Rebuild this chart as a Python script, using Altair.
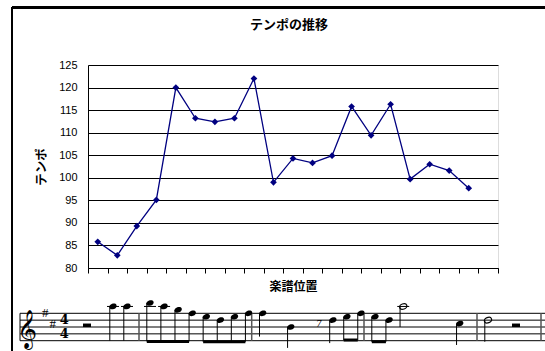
import altair as alt
import pandas as pd

# ---- chart data -------------------------------------------------------
chart_title = "テンポの推移"
positions = list(range(1, 22))
tempo = [85.8, 82.8, 89.3, 95.1, 120.0, 113.2, 112.4, 113.2, 122.0, 99.0,
         104.3, 103.3, 104.9, 115.8, 109.4, 116.3, 99.7, 103.0, 101.6, 97.7, None]
y_ticks = [80, 85, 90, 95, 100, 105, 110, 115, 120, 125]

# ---- score data (beats, staff steps: 0 = bottom line E4) --------------
note_beats = [2, 3, 4, 4.5, 5, 5.5, 6, 6.5, 7, 7.5, 8, 9, 10.5, 11, 11.5, 12, 12.5, 13, 15, 16]
note_steps = [10, 10, 11, 10, 9, 8, 7, 6, 7, 8, 8, 4, 6, 7, 8, 7, 6, 10, 5, 6]
note_stem_end = [0, 0, -0.2, -0.2, -0.2, -0.2, -0.3, -0.3, -0.3, -0.3,
                 1.2, -2.1, -0.7, 0.2, 0.2, -0.3, -0.3, 4, -1.25, -0.3]
note_kind = ["q", "q", "e", "e", "e", "e", "e", "e", "e", "e",
             "q", "q", "e", "e", "e", "e", "e", "h", "q", "h"]
beam_start = [4, 6, 11, 12]
beam_end = [5.5, 7.5, 11.5, 12.5]
beam_step = [-0.2, -0.3, 0.2, -0.3]
bar_beats = [4, 8, 12, 16, 20]
staff_steps = [0, 2, 4, 6, 8]
rest_beats = [0, 18]
key_sharps_beats = [-2.5, -2.05]
key_sharps_steps = [8, 5]
time_sig_beats = [-1.35, -1.35]
time_sig_steps = [6, 2]

# ---- layout constants --------------------------------------------------
W, H = 410, 203
PAD = {"left": 88, "top": 65, "right": 47, "bottom": 83}
BEAT_STOPS = [-4, 0, 2, 3, 4, 8, 12, 16, 18, 20]
PX_STOPS = [-68, -1, 25, 39, 62, 174.7, 287, 400, 428, 464]
STEP_RANGE = [275.7, 248.3]
JP = "Noto Sans CJK JP"
NUM = "Liberation Sans"
NAVY = "#000080"

df = pd.DataFrame({"pos": positions, "tempo": tempo})

xb = alt.X("pos:O",
           scale=alt.Scale(paddingInner=0, paddingOuter=0),
           axis=alt.Axis(labels=False, tickBand="extent", tickSize=5, tickColor="black",
                         domainColor="black", grid=False, title="楽譜位置",
                         titleFont=JP, titleFontSize=12, titleFontWeight="bold",
                         titleColor="black", titlePadding=8))
yb = alt.Y("tempo:Q",
           scale=alt.Scale(domain=[80, 125], zero=False, nice=False),
           axis=alt.Axis(values=y_ticks, tickSize=0, labelPadding=11, labelFont=NUM,
                         labelFontSize=11, labelColor="black", domainColor="black",
                         gridColor="black", gridWidth=1, gridOpacity=1,
                         title="テンポ", titleFont=JP, titleFontSize=12.5,
                         titleFontWeight="bold", titleColor="black", titlePadding=10))

line = alt.Chart(df).mark_line(color=NAVY, strokeWidth=1.3).encode(x=xb, y=yb)
pts = alt.Chart(df).mark_point(shape="diamond", filled=True, color=NAVY, size=45,
                               opacity=1).encode(x=xb, y=yb)

frame_left = alt.Chart(df).mark_rule(color="black", strokeWidth=1.5).encode(
    x=alt.value(-76), y=alt.value(-57.5), y2=alt.value(290))
frame_top = alt.Chart(df).mark_rule(color="black", strokeWidth=1.5).encode(
    x=alt.value(-76), x2=alt.value(460), y=alt.value(-57.5))
title_df = pd.DataFrame({"t": [chart_title]})
title_mark = alt.Chart(title_df).mark_text(font=JP, fontSize=13, fontWeight="bold",
                                           color="black", baseline="middle",
                                           align="center").encode(
    x=alt.value(W / 2 - 4), y=alt.value(-40), text="t:N")

main = alt.layer(line, pts, frame_left, frame_top, title_mark)

# ---- score -------------------------------------------------------------
xs = alt.Scale(domain=BEAT_STOPS, range=PX_STOPS, zero=False, nice=False)
ys = alt.Scale(domain=[0, 8], range=STEP_RANGE, zero=False, nice=False)


def X(field):
    return alt.X(field, type="quantitative", scale=xs, axis=None)


def Y(field):
    return alt.Y(field, type="quantitative", scale=ys, axis=None)


staff_df = pd.DataFrame({"step": staff_steps, "b0": [-4] * 5, "b1": [20] * 5})
staff = alt.Chart(staff_df).mark_rule(color="black", strokeWidth=1).encode(
    x=X("b0"), x2="b1", y=Y("step"))

bars_df = pd.DataFrame({"beat": bar_beats, "s0": [0] * 5, "s1": [8] * 5})
bars = alt.Chart(bars_df).mark_rule(color="#555", strokeWidth=1.5, xOffset=-11).encode(
    x=X("beat"), y=Y("s0"), y2="s1")
start_df = pd.DataFrame({"beat": [-4], "s0": [0], "s1": [8]})
start_bar = alt.Chart(start_df).mark_rule(color="black", strokeWidth=1).encode(
    x=X("beat"), y=Y("s0"), y2="s1")

notes_df = pd.DataFrame({"beat": note_beats, "step": note_steps,
                         "stem": note_stem_end, "kind": note_kind})
HEAD = "M-1,0 C-1,-0.95 1,-0.95 1,0 C1,0.95 -1,0.95 -1,0 Z"
stems = alt.Chart(notes_df).mark_rule(color="black", strokeWidth=1, xOffset=-3.2).encode(
    x=X("beat"), y=Y("step"), y2="stem")
heads_f = alt.Chart(notes_df).transform_filter("datum.kind != 'h'").mark_point(
    shape=HEAD, filled=True, color="black", size=56, angle=340, opacity=1).encode(
    x=X("beat"), y=Y("step"))
heads_h = alt.Chart(notes_df).transform_filter("datum.kind == 'h'").mark_point(
    shape=HEAD, filled=False, color="black", size=56, angle=340, strokeWidth=1.2,
    opacity=1).encode(x=X("beat"), y=Y("step"))
ledger = alt.Chart(notes_df).transform_filter("datum.step >= 10").transform_calculate(
    lstep="10").mark_tick(orient="horizontal", size=12, thickness=1, color="black",
                          opacity=1).encode(x=X("beat"), y=Y("lstep"))

beams_df = pd.DataFrame({"b0": beam_start, "b1": beam_end, "step": beam_step})
beams = alt.Chart(beams_df).mark_rule(color="black", strokeWidth=3, xOffset=-3.2,
                                      x2Offset=-3.2).encode(
    x=X("b0"), x2="b1", y=Y("step"))

rest_df = pd.DataFrame({"beat": rest_beats, "step": [4.5, 4.5]})
rests = alt.Chart(rest_df).mark_tick(orient="horizontal", size=8, thickness=3.5,
                                     color="black", opacity=1).encode(
    x=X("beat"), y=Y("step"))

erest_df = pd.DataFrame({"beat": [10], "step": [5], "t": ["7"]})
erest = alt.Chart(erest_df).mark_text(font="DejaVu Serif", fontSize=9, color="black",
                                      fontStyle="italic").encode(
    x=X("beat"), y=Y("step"), text="t:N")

clef_df = pd.DataFrame({"beat": [-3.6], "step": [3], "t": ["𝄞"]})
clef = alt.Chart(clef_df).mark_text(font="DejaVu Sans", fontSize=34, color="black",
                                    baseline="middle").encode(
    x=X("beat"), y=Y("step"), text="t:N")

sharp_df = pd.DataFrame({"beat": key_sharps_beats, "step": key_sharps_steps,
                         "t": ["#", "#"]})
sharps = alt.Chart(sharp_df).mark_text(font="Liberation Serif", fontSize=13, color="black",
                                       baseline="middle").encode(
    x=X("beat"), y=Y("step"), text="t:N")

ts_df = pd.DataFrame({"beat": time_sig_beats, "step": time_sig_steps, "t": ["4", "4"]})
tsig = alt.Chart(ts_df).mark_text(font="DejaVu Serif", fontSize=13, fontWeight="bold",
                                  color="black", baseline="middle").encode(
    x=X("beat"), y=Y("step"), text="t:N")

score = alt.layer(staff, start_bar, bars, ledger, stems, beams, heads_f, heads_h,
                  rests, erest, clef, sharps, tsig)

chart = alt.layer(main, score).resolve_scale(x="independent", y="independent").properties(
    width=W, height=H,
    autosize=alt.AutoSizeParams(type="none"),
    padding=PAD,
).configure_view(stroke=None).configure(background="white")

chart.save("out.html", embed_options={"renderer": "svg", "actions": False})
